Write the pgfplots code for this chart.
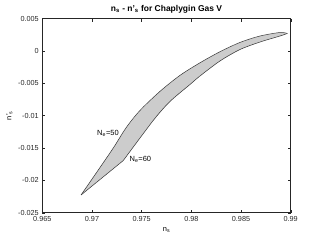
\documentclass[border=0pt]{standalone}
\usepackage{pgfplots}
\pgfplotsset{compat=1.18}
\usepackage{fontspec}
\setmainfont{Liberation Sans}
\definecolor{axgray}{RGB}{38,38,38}
\begin{document}
\begin{tikzpicture}
\useasboundingbox (0,0) rectangle (321bp,241bp);
\begin{axis}[
  at={(42.3bp,28.3bp)}, anchor=south west,
  scale only axis, width=248.4bp, height=194.1bp,
  xmin=0.965, xmax=0.99, ymin=-0.025, ymax=0.005,
  xtick={0.965,0.97,...,0.991}, ytick={-0.025,-0.02,...,0.0051},
  xticklabels={0.965,0.97,0.975,0.98,0.985,0.99},
  yticklabels={-0.025,-0.02,-0.015,-0.01,-0.005,0,0.005},
  scaled ticks=false,
  tick align=inside, major tick length=3bp,
  axis line style={axgray, line width=0.5pt},
  every tick/.style={axgray, line width=0.4pt},
  tick label style={font=\fontsize{7.3}{8}\selectfont, text=axgray},
  title={\bfseries n\textsubscript{s} - n'\textsubscript{s} for Chaplygin Gas V},
  title style={font=\fontsize{8.5}{9}\selectfont, yshift=-4bp},
  xlabel={n\textsubscript{s}}, ylabel={n'\textsubscript{s}},
  xlabel style={font=\fontsize{7.5}{8}\selectfont, yshift=1bp},
  ylabel style={font=\fontsize{7.5}{8}\selectfont, yshift=-1bp},
  clip=false,
]
\addplot[fill=black!20, draw=none] coordinates {
(0.96890,-0.02226) (0.97201,-0.01531) (0.97342,-0.01190) (0.97483,-0.00920)
(0.97685,-0.00624) (0.97886,-0.00377) (0.98087,-0.00183) (0.98288,-0.00012)
(0.98489,0.00131) (0.98691,0.00231) (0.98892,0.00285) (0.98966,0.00270)
(0.98892,0.00231) (0.98691,0.00138) (0.98489,0.00022) (0.98288,-0.00155)
(0.98087,-0.00387) (0.97986,-0.00519) (0.97785,-0.00781) (0.97617,-0.01073)
(0.97315,-0.01694) (0.96890,-0.02226)
} -- cycle;
% N_e = 50
\addplot[draw=black!80, line width=0.5pt, smooth, tension=0.5] coordinates {
(0.96890,-0.02226) (0.97201,-0.01531) (0.97342,-0.01190) (0.97483,-0.00920)
(0.97685,-0.00624) (0.97886,-0.00377) (0.98087,-0.00183) (0.98288,-0.00012)
(0.98489,0.00131) (0.98691,0.00231) (0.98892,0.00285) (0.98966,0.00270)
};
% N_e = 60
\addplot[draw=black!80, line width=0.5pt] coordinates {
(0.96890,-0.02226) (0.97315,-0.01694)
};
\addplot[draw=black!80, line width=0.5pt, smooth, tension=0.5] coordinates {
(0.97315,-0.01694) (0.97617,-0.01073) (0.97785,-0.00781) (0.97986,-0.00519)
(0.98087,-0.00387) (0.98288,-0.00155) (0.98489,0.00022) (0.98691,0.00138)
(0.98892,0.00231) (0.98966,0.00270)
};
\node[font=\fontsize{7.5}{8}\selectfont, inner sep=0pt] at (axis cs:0.97161,-0.01268) {N\textsubscript{e}=50};
\node[font=\fontsize{7.5}{8}\selectfont, inner sep=0pt] at (axis cs:0.97487,-0.01675) {N\textsubscript{e}=60};
\end{axis}
\end{tikzpicture}
\end{document}
